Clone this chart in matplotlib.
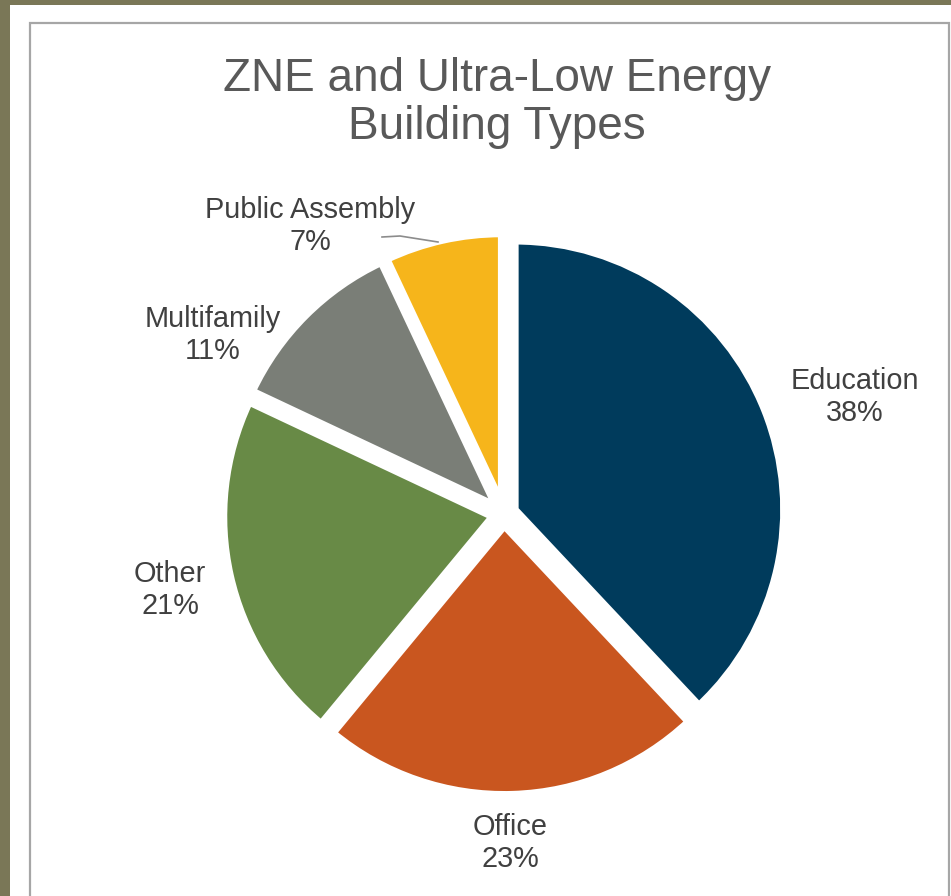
import matplotlib.pyplot as plt
from matplotlib.patches import Rectangle

# Building type shares (%)
types = ['Education', 'Office', 'Other', 'Multifamily', 'Public Assembly']
shares = [38, 23, 21, 11, 7]
colors = ['#003b5c', '#c9561f', '#688a46', '#7a7e77', '#f6b51b']

# label centres in pixel coords (from top-left)
label_xy = [(855, 397), (510, 843), (170, 590), (213, 335), (310, 226)]

W, H = 951, 896
plt.rcParams['font.family'] = ['Liberation Sans', 'DejaVu Sans']

fig = plt.figure(figsize=(W / 100, H / 100), dpi=100)
fig.patch.set_facecolor('#7a7757')
ax = fig.add_axes([0, 0, 1, 1])

# white card and thin grey frame
ax.add_patch(Rectangle((10, 0), W - 10, H - 5, facecolor='white', edgecolor='none', zorder=0))
ax.plot([30, 30, 949, 949], [0, H - 23, H - 23, 0], color='#a6a6a6', lw=1.6, zorder=1,
        solid_joinstyle='miter')

ax.pie(shares, colors=colors, startangle=90, counterclock=False,
       center=(504, H - 514), radius=268.5, explode=[12] * len(shares),
       wedgeprops=dict(edgecolor='white', linewidth=5))

for name, pct, (lx, ly) in zip(types, shares, label_xy):
    ax.text(lx, H - ly, f'{name}\n{pct}%', ha='center', va='center',
            multialignment='center', fontsize=20.8, color='#404040', linespacing=1.2)

# leader line for Public Assembly
ax.plot([382, 400, 438], [H - 237, H - 236, H - 242], color='#8c8c8c', lw=1.2)

ax.text(497, H - 103, 'ZNE and Ultra-Low Energy\nBuilding Types', ha='center', va='center',
        fontsize=33, color='#595959', linespacing=1.12)

ax.set_xlim(0, W)
ax.set_ylim(0, H)
ax.set_aspect('auto')
ax.axis('off')

fig.savefig('out.png', dpi=100, facecolor=fig.get_facecolor())
